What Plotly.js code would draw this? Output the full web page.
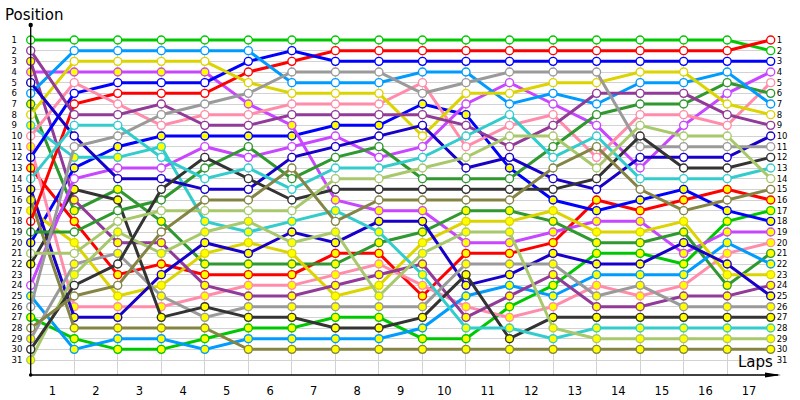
<!DOCTYPE html>
<html><head><meta charset="utf-8">
<script src="https://cdn.plot.ly/plotly-3.0.1.min.js"></script>
<style>html,body{margin:0;padding:0;background:#fff}#chart{width:800px;height:400px}</style>
</head><body><div id="chart"></div>
<script>
// ---- data ----
const laps = [0,1,2,3,4,5,6,7,8,9,10,11,12,13,14,15,16,17];
const lapLabels = ['1','2','3','4','5','6','7','8','9','10','11','12','13','14','15','16','17'];
const positionLabels = ['1','2','3','4','5','6','7','8','9','10','11','12','13','14','15','16','17','18','19','20','21','22','23','24','25','26','27','28','29','30','31'];

// first drivers (white markers)
const greenA     = [1,1,1,1,1,1,1,1,1,1,1,1,1,1,1,1,1,2];
const redA       = [18,7,6,6,6,4,3,2,2,2,2,2,2,2,2,2,2,1];
const blueA      = [12,6,5,5,5,3,2,3,3,3,3,3,3,3,3,3,3,3];
const magentaA   = [24,14,13,13,11,12,11,10,12,11,7,5,7,9,13,9,6,4];
const pinkA      = [10,5,7,9,8,8,7,7,7,5,11,9,8,12,8,8,9,5];
const darkGreenA = [19,19,17,16,13,11,14,12,11,14,14,14,11,8,7,7,5,6];
const skyBlueA   = [6,2,2,2,2,2,5,5,5,4,4,7,6,7,5,5,4,7];
const yellowA    = [8,3,3,3,3,5,6,6,6,10,6,6,5,5,4,4,7,8];
const purpleA    = [2,8,8,7,9,9,8,8,8,8,9,11,9,6,6,6,8,9];
const navyA      = [5,10,14,14,15,15,12,11,10,9,13,12,14,15,12,12,12,10];
const grayA      = [26,11,10,8,7,6,4,4,4,6,5,4,4,4,11,11,11,11];
const blackA     = [30,24,22,15,12,14,16,15,15,15,15,15,15,14,10,13,13,12];
const cyanA      = [14,9,9,12,14,13,15,13,13,12,10,8,12,10,14,14,14,13];
const limeA      = [21,21,18,17,17,17,17,14,14,13,12,10,10,13,9,10,10,14];
const oliveA     = [28,25,24,19,16,16,13,18,16,16,16,16,13,11,15,17,16,15];

// second drivers (yellow markers)
const greenB     = [27,29,30,30,29,28,28,27,27,29,29,26,24,21,21,22,18,17];
const redB       = [13,18,23,22,23,23,23,21,21,25,21,21,20,16,17,16,15,16];
const blueB      = [20,13,11,10,10,10,10,9,9,7,8,13,16,17,16,15,17,18];
const magentaB   = [4,4,4,4,4,7,9,16,17,17,20,20,19,18,18,21,19,19];
const pinkB      = [11,26,26,26,25,24,24,23,22,24,26,27,26,24,25,24,21,20];
const darkGreenB = [7,17,15,18,22,22,22,22,20,19,17,17,18,20,20,19,24,21];
const skyBlueB   = [25,30,29,29,30,29,29,29,29,28,25,24,25,23,23,23,20,22];
const yellowB    = [17,20,25,24,21,20,21,25,24,20,18,18,17,19,19,18,23,23];
const purpleB    = [3,16,20,20,24,25,25,24,23,22,27,25,23,26,26,25,25,24];
const navyB      = [15,27,27,23,20,21,19,20,18,18,24,23,21,22,22,20,22,25];
const grayB      = [29,22,21,25,27,26,26,26,26,26,22,22,22,25,24,26,26,26];
const blackB     = [22,15,16,27,26,27,27,28,28,27,23,29,27,27,27,27,27,27];
const cyanB      = [9,12,12,11,18,19,18,17,19,23,28,28,29,28,28,28,28,28];
const limeB      = [31,23,19,21,19,18,20,19,25,21,19,19,28,29,29,29,29,29];
const oliveB     = [16,28,28,28,28,30,30,30,30,30,30,30,30,30,30,30,30,30];

// ---- styles ----
const teamColors = {
  green:'#00c800', red:'#ff0000', blue:'#0000ff', magenta:'#c846ff', pink:'#ff8caa',
  darkGreen:'#2f982f', skyBlue:'#009bff', yellow:'#dcd400', purple:'#913a98', navy:'#1800c8',
  gray:'#9a9a9a', black:'#333333', cyan:'#33cccc', lime:'#a8c86c', olive:'#848444'
};
const drivers = [
  ['green',greenA,greenB],['red',redA,redB],['blue',blueA,blueB],['magenta',magentaA,magentaB],
  ['pink',pinkA,pinkB],['darkGreen',darkGreenA,darkGreenB],['skyBlue',skyBlueA,skyBlueB],
  ['yellow',yellowA,yellowB],['purple',purpleA,purpleB],['navy',navyA,navyB],['gray',grayA,grayB],
  ['black',blackA,blackB],['cyan',cyanA,cyanB],['lime',limeA,limeB],['olive',oliveA,oliveB]
];

const FONT = 'DejaVu Sans, Verdana, sans-serif';
const W = 800, H = 400;
const plotL = 30.7, plotR = 770.7, plotT = 36, plotB = 375;
const pxPerPos = 10.667;
const yTop = 1 - (40 - plotT) / pxPerPos;
const yBot = yTop + (plotB - plotT) / pxPerPos;
const px = v => v / W, py = v => (H - v) / H;

const traces = [];
function addDriver(team, pos, fill) {
  const c = teamColors[team];
  traces.push({
    type:'scatter', mode:'lines+markers', x:laps, y:pos, cliponaxis:false,
    line:{color:c, width:3},
    marker:{symbol:'circle', size:8, color:fill, line:{color:c, width:1.4}},
    hoverinfo:'skip', showlegend:false
  });
}
drivers.forEach(d => addDriver(d[0], d[2], '#ffff00'));
drivers.forEach(d => addDriver(d[0], d[1], '#ffffff'));
traces.push({type:'scatter', x:[null], y:[null], yaxis:'y2', showlegend:false, hoverinfo:'skip'});
traces.push({type:'scatter', x:[null], y:[null], yaxis:'y3', showlegend:false, hoverinfo:'skip'});

const posVals = positionLabels.map((t,i) => i + 1);
const yCommon = {range:[yBot, yTop], tickmode:'array', tickvals:posVals, ticktext:positionLabels,
  zeroline:false, showline:false, ticks:'', fixedrange:true};

const layout = {
  width:W, height:H, margin:{l:0,r:0,t:0,b:0}, paper_bgcolor:'#fff', plot_bgcolor:'#fff',
  font:{family:FONT, color:'#000'},
  xaxis:{domain:[px(plotL), px(plotR)], range:[laps[0], laps[laps.length-1]],
    tickmode:'array', tickvals:lapLabels.map((t,i) => laps[i] + 0.5), ticktext:lapLabels,
    showgrid:false, zeroline:false, showline:false, ticks:'', ticklabelstandoff:7,
    tickfont:{family:FONT, size:11.5, color:'#000'},
    minor:{tick0:0, dtick:1, showgrid:true, gridcolor:'#d2d2d2', gridwidth:1, ticks:''}},
  yaxis:Object.assign({}, yCommon, {domain:[py(plotB), py(plotT)], showgrid:true, gridcolor:'#d2d2d2',
    gridwidth:1, showticklabels:false}),
  yaxis2:Object.assign({}, yCommon, {overlaying:'y', side:'right', anchor:'free', position:px(10.5),
    showgrid:false, tickfont:{family:FONT, size:8.5, color:'#000'}}),
  yaxis3:Object.assign({}, yCommon, {overlaying:'y', side:'right', anchor:'x', ticklabelstandoff:5,
    showgrid:false, tickfont:{family:FONT, size:8.5, color:'#000'}}),
  shapes:[
    {type:'line', xref:'paper', yref:'paper', x0:px(plotL), x1:px(plotL), y0:py(plotB), y1:py(25), line:{color:'#000', width:1.3}},
    {type:'circle', xref:'paper', yref:'paper', x0:px(plotL-2.2), x1:px(plotL+2.2), y0:py(27.2), y1:py(22.8), fillcolor:'#000', line:{width:0}},
    {type:'circle', xref:'paper', yref:'paper', x0:px(plotL-1.8), x1:px(plotL+1.8), y0:py(plotB+1.8), y1:py(plotB-1.8), fillcolor:'#000', line:{width:0}},
    {type:'line', xref:'paper', yref:'paper', x0:px(plotL), x1:px(778), y0:py(plotB), y1:py(plotB), line:{color:'#000', width:1.3}},
    {type:'path', xref:'paper', yref:'paper',
      path:'M '+px(765)+' '+py(372.6)+' L '+px(781)+' '+py(plotB)+' L '+px(765)+' '+py(377.4)+' Z',
      fillcolor:'#000', line:{width:0}}
  ],
  annotations:[
    {xref:'paper', yref:'paper', x:px(3), y:py(15), xanchor:'left', yanchor:'middle', showarrow:false,
      text:'Position', font:{family:FONT, size:15, color:'#000'}},
    {xref:'paper', yref:'paper', x:px(775), y:py(362), xanchor:'right', yanchor:'middle', showarrow:false,
      text:'Laps', font:{family:FONT, size:15, color:'#000'}}
  ]
};
Plotly.newPlot('chart', traces, layout, {staticPlot:true, displayModeBar:false});
</script></body></html>
